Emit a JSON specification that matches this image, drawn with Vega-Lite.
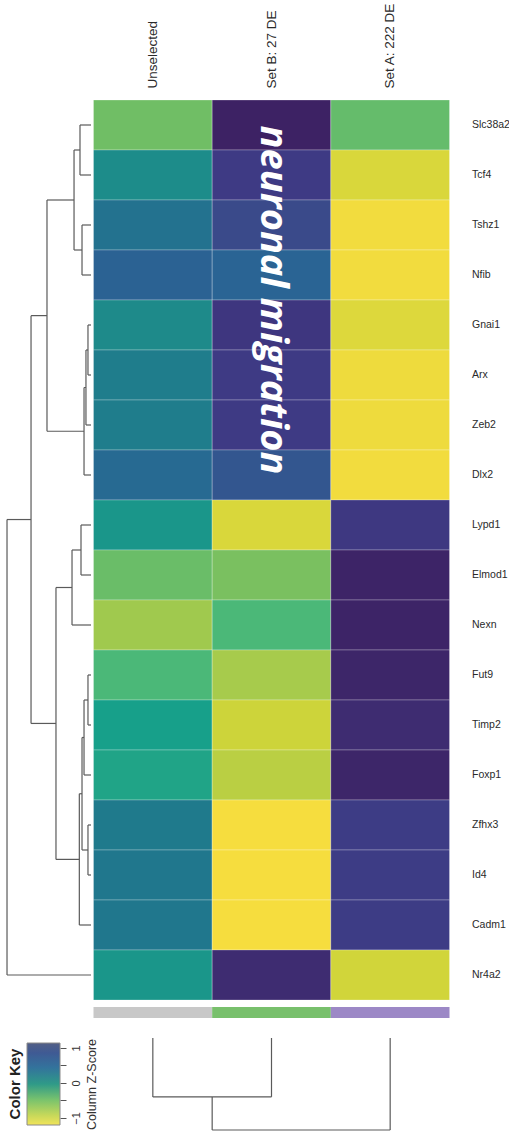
{
  "$schema": "https://vega.github.io/schema/vega-lite/v6.json",
  "background": "white",
  "padding": {"left": 6, "top": 2, "right": 0, "bottom": 0},
  "config": {"view": {"stroke": null}, "font": "Liberation Sans"},
  "datasets": {
    "cells": [
      {"gene": "Slc38a2", "group": "Unselected", "z": -0.75}, {"gene": "Slc38a2", "group": "Set B: 27 DE", "z": 1.41}, {"gene": "Slc38a2", "group": "Set A: 222 DE", "z": -0.69},
      {"gene": "Tcf4", "group": "Unselected", "z": 0.06}, {"gene": "Tcf4", "group": "Set B: 27 DE", "z": 1.05}, {"gene": "Tcf4", "group": "Set A: 222 DE", "z": -1.29},
      {"gene": "Tshz1", "group": "Unselected", "z": 0.36}, {"gene": "Tshz1", "group": "Set B: 27 DE", "z": 0.84}, {"gene": "Tshz1", "group": "Set A: 222 DE", "z": -1.47},
      {"gene": "Nfib", "group": "Unselected", "z": 0.54}, {"gene": "Nfib", "group": "Set B: 27 DE", "z": 0.51}, {"gene": "Nfib", "group": "Set A: 222 DE", "z": -1.47},
      {"gene": "Gnai1", "group": "Unselected", "z": 0.09}, {"gene": "Gnai1", "group": "Set B: 27 DE", "z": 1.11}, {"gene": "Gnai1", "group": "Set A: 222 DE", "z": -1.32},
      {"gene": "Arx", "group": "Unselected", "z": 0.24}, {"gene": "Arx", "group": "Set B: 27 DE", "z": 1.05}, {"gene": "Arx", "group": "Set A: 222 DE", "z": -1.44},
      {"gene": "Zeb2", "group": "Unselected", "z": 0.24}, {"gene": "Zeb2", "group": "Set B: 27 DE", "z": 1.05}, {"gene": "Zeb2", "group": "Set A: 222 DE", "z": -1.44},
      {"gene": "Dlx2", "group": "Unselected", "z": 0.45}, {"gene": "Dlx2", "group": "Set B: 27 DE", "z": 0.69}, {"gene": "Dlx2", "group": "Set A: 222 DE", "z": -1.47},
      {"gene": "Lypd1", "group": "Unselected", "z": -0.06}, {"gene": "Lypd1", "group": "Set B: 27 DE", "z": -1.29}, {"gene": "Lypd1", "group": "Set A: 222 DE", "z": 1.08},
      {"gene": "Elmod1", "group": "Unselected", "z": -0.72}, {"gene": "Elmod1", "group": "Set B: 27 DE", "z": -0.81}, {"gene": "Elmod1", "group": "Set A: 222 DE", "z": 1.38},
      {"gene": "Nexn", "group": "Unselected", "z": -0.99}, {"gene": "Nexn", "group": "Set B: 27 DE", "z": -0.54}, {"gene": "Nexn", "group": "Set A: 222 DE", "z": 1.38},
      {"gene": "Fut9", "group": "Unselected", "z": -0.54}, {"gene": "Fut9", "group": "Set B: 27 DE", "z": -1.02}, {"gene": "Fut9", "group": "Set A: 222 DE", "z": 1.35},
      {"gene": "Timp2", "group": "Unselected", "z": -0.18}, {"gene": "Timp2", "group": "Set B: 27 DE", "z": -1.2}, {"gene": "Timp2", "group": "Set A: 222 DE", "z": 1.26},
      {"gene": "Foxp1", "group": "Unselected", "z": -0.24}, {"gene": "Foxp1", "group": "Set B: 27 DE", "z": -1.11}, {"gene": "Foxp1", "group": "Set A: 222 DE", "z": 1.35},
      {"gene": "Zfhx3", "group": "Unselected", "z": 0.27}, {"gene": "Zfhx3", "group": "Set B: 27 DE", "z": -1.5}, {"gene": "Zfhx3", "group": "Set A: 222 DE", "z": 1.02},
      {"gene": "Id4", "group": "Unselected", "z": 0.3}, {"gene": "Id4", "group": "Set B: 27 DE", "z": -1.5}, {"gene": "Id4", "group": "Set A: 222 DE", "z": 1.02},
      {"gene": "Cadm1", "group": "Unselected", "z": 0.3}, {"gene": "Cadm1", "group": "Set B: 27 DE", "z": -1.5}, {"gene": "Cadm1", "group": "Set A: 222 DE", "z": 1.02},
      {"gene": "Nr4a2", "group": "Unselected", "z": -0.06}, {"gene": "Nr4a2", "group": "Set B: 27 DE", "z": 1.26}, {"gene": "Nr4a2", "group": "Set A: 222 DE", "z": -1.23}
    ],
    "rowTree": [
      {"h1": 1.31, "h2": 1.31, "r1": 0.5, "r2": 1.5}, {"h1": 0, "h2": 1.31, "r1": 0.5, "r2": 0.5}, {"h1": 0, "h2": 1.31, "r1": 1.5, "r2": 1.5},
      {"h1": 1.07, "h2": 1.07, "r1": 2.5, "r2": 3.5}, {"h1": 0, "h2": 1.07, "r1": 2.5, "r2": 2.5}, {"h1": 0, "h2": 1.07, "r1": 3.5, "r2": 3.5},
      {"h1": 2.02, "h2": 2.02, "r1": 1.0, "r2": 3.0}, {"h1": 1.31, "h2": 2.02, "r1": 1.0, "r2": 1.0}, {"h1": 1.07, "h2": 2.02, "r1": 3.0, "r2": 3.0},
      {"h1": 0.36, "h2": 0.36, "r1": 4.5, "r2": 5.5}, {"h1": 0, "h2": 0.36, "r1": 4.5, "r2": 4.5}, {"h1": 0, "h2": 0.36, "r1": 5.5, "r2": 5.5},
      {"h1": 0.6, "h2": 0.6, "r1": 5.0, "r2": 6.5}, {"h1": 0.36, "h2": 0.6, "r1": 5.0, "r2": 5.0}, {"h1": 0, "h2": 0.6, "r1": 6.5, "r2": 6.5},
      {"h1": 0.83, "h2": 0.83, "r1": 5.75, "r2": 7.5}, {"h1": 0.6, "h2": 0.83, "r1": 5.75, "r2": 5.75}, {"h1": 0, "h2": 0.83, "r1": 7.5, "r2": 7.5},
      {"h1": 5.24, "h2": 5.24, "r1": 2.0, "r2": 6.625}, {"h1": 2.02, "h2": 5.24, "r1": 2.0, "r2": 2.0}, {"h1": 0.83, "h2": 5.24, "r1": 6.625, "r2": 6.625},
      {"h1": 1.19, "h2": 1.19, "r1": 8.5, "r2": 9.5}, {"h1": 0, "h2": 1.19, "r1": 8.5, "r2": 8.5}, {"h1": 0, "h2": 1.19, "r1": 9.5, "r2": 9.5},
      {"h1": 2.26, "h2": 2.26, "r1": 9.0, "r2": 10.5}, {"h1": 1.19, "h2": 2.26, "r1": 9.0, "r2": 9.0}, {"h1": 0, "h2": 2.26, "r1": 10.5, "r2": 10.5},
      {"h1": 0.36, "h2": 0.36, "r1": 11.5, "r2": 12.5}, {"h1": 0, "h2": 0.36, "r1": 11.5, "r2": 11.5}, {"h1": 0, "h2": 0.36, "r1": 12.5, "r2": 12.5},
      {"h1": 0.83, "h2": 0.83, "r1": 12.0, "r2": 13.5}, {"h1": 0.36, "h2": 0.83, "r1": 12.0, "r2": 12.0}, {"h1": 0, "h2": 0.83, "r1": 13.5, "r2": 13.5},
      {"h1": 0.36, "h2": 0.36, "r1": 14.5, "r2": 15.5}, {"h1": 0, "h2": 0.36, "r1": 14.5, "r2": 14.5}, {"h1": 0, "h2": 0.36, "r1": 15.5, "r2": 15.5},
      {"h1": 1.07, "h2": 1.07, "r1": 12.75, "r2": 15.0}, {"h1": 0.83, "h2": 1.07, "r1": 12.75, "r2": 12.75}, {"h1": 0.36, "h2": 1.07, "r1": 15.0, "r2": 15.0},
      {"h1": 1.39, "h2": 1.39, "r1": 13.875, "r2": 16.5}, {"h1": 1.07, "h2": 1.39, "r1": 13.875, "r2": 13.875}, {"h1": 0, "h2": 1.39, "r1": 16.5, "r2": 16.5},
      {"h1": 4.17, "h2": 4.17, "r1": 9.75, "r2": 15.1875}, {"h1": 2.26, "h2": 4.17, "r1": 9.75, "r2": 9.75}, {"h1": 1.39, "h2": 4.17, "r1": 15.1875, "r2": 15.1875},
      {"h1": 7.14, "h2": 7.14, "r1": 4.3125, "r2": 12.46875}, {"h1": 5.24, "h2": 7.14, "r1": 4.3125, "r2": 4.3125}, {"h1": 4.17, "h2": 7.14, "r1": 12.46875, "r2": 12.46875},
      {"h1": 10, "h2": 10, "r1": 8.390625, "r2": 17.5}, {"h1": 7.14, "h2": 10, "r1": 8.390625, "r2": 8.390625}, {"h1": 0, "h2": 10, "r1": 17.5, "r2": 17.5}
    ],
    "colTree": [
      {"c1": 0.5, "c2": 0.5, "h1": 0, "h2": 6.4},
      {"c1": 1.5, "c2": 1.5, "h1": 0, "h2": 6.4},
      {"c1": 0.5, "c2": 1.5, "h1": 6.4, "h2": 6.4},
      {"c1": 1.0, "c2": 1.0, "h1": 6.4, "h2": 10},
      {"c1": 2.5, "c2": 2.5, "h1": 0, "h2": 10},
      {"c1": 1.0, "c2": 2.5, "h1": 10, "h2": 10}
    ],
    "groups": [
      {"group": "Unselected"}, {"group": "Set B: 27 DE"}, {"group": "Set A: 222 DE"}
    ]
  },
  "bounds": "flush",
  "spacing": 66.5,
  "resolve": {"scale": {"x": "independent", "y": "independent", "color": "independent"}},
  "hconcat": [
    {
      "bounds": "full",
      "spacing": 38,
      "resolve": {"scale": {"x": "independent", "y": "independent", "color": "independent"}},
      "vconcat": [
        {
          "width": 64,
          "height": 900,
          "data": {"name": "rowTree"},
          "mark": {"type": "rule", "color": "#5a5a5a", "strokeWidth": 1.2},
          "encoding": {
            "x": {"field": "h1", "type": "quantitative", "scale": {"domain": [0, 7.62], "reverse": true, "nice": false, "zero": false}, "axis": null},
            "x2": {"field": "h2"},
            "y": {"field": "r1", "type": "quantitative", "scale": {"domain": [0, 18], "reverse": true, "nice": false, "zero": false}, "axis": null},
            "y2": {"field": "r2"}
          }
        },
        {
          "width": 33,
          "height": 82,
          "title": {"text": "Color Key", "orient": "left", "anchor": "middle", "fontSize": 15, "fontWeight": "bold", "color": "#222", "offset": 4},
          "data": {"values": [{}]},
          "mark": {"type": "rect", "stroke": "#8a8a8a", "strokeWidth": 1, "color": {"gradient": "linear", "x1": 0, "y1": 1, "x2": 0, "y2": 0, "stops": [
            {"offset": 0, "color": "#f2e45a"},
            {"offset": 0.12, "color": "#c6d85a"},
            {"offset": 0.3, "color": "#7cc46c"},
            {"offset": 0.5, "color": "#2f9a88"},
            {"offset": 0.7, "color": "#33739c"},
            {"offset": 0.88, "color": "#3f5a94"},
            {"offset": 1, "color": "#535f86"}
          ]}},
          "encoding": {
            "x": {"datum": 0, "type": "quantitative", "scale": {"domain": [0, 1], "nice": false, "zero": false}, "axis": null},
            "x2": {"datum": 1},
            "y": {"datum": -1.2, "type": "quantitative", "scale": {"domain": [-1.2, 1.14], "nice": false, "zero": false},
              "axis": {"orient": "right", "values": [-1, -0.5, 0, 0.5, 1], "labelExpr": "datum.value == 0 ? '0' : datum.value == 1 ? '1' : datum.value == -1 ? '\u22121' : ''", "labelAngle": 270, "labelAlign": "center", "labelBaseline": "middle", "labelPadding": 10, "labelFontSize": 11, "labelColor": "#333", "tickSize": 6, "tickColor": "#555", "domain": false, "grid": false, "title": "Column Z-Score", "titleAngle": 270, "titleAlign": "center", "titleBaseline": "middle", "titleX": 31, "titleY": 41, "titleFontSize": 12.5, "titleFontWeight": "normal", "titleColor": "#333"}},
            "y2": {"datum": 1.14}
          }
        }
      ]
    },
    {
      "bounds": "flush",
      "spacing": 7,
      "resolve": {"scale": {"x": "independent", "y": "independent", "color": "independent"}},
      "vconcat": [
        {
          "width": 356,
          "height": 900,
          "layer": [
            {
              "data": {"name": "cells"},
              "mark": {"type": "rect", "stroke": "#ffffff", "strokeWidth": 1, "strokeOpacity": 0.25},
              "encoding": {
                "x": {"field": "group", "type": "nominal", "sort": ["Unselected", "Set B: 27 DE", "Set A: 222 DE"], "scale": {"paddingInner": 0, "paddingOuter": 0},
                  "axis": {"orient": "top", "title": null, "labelAngle": 270, "labelAlign": "left", "labelBaseline": "middle", "ticks": false, "domain": false, "labelPadding": 12, "labelFontSize": 13.5, "labelColor": "#2a2a2a", "labelLimit": 0}},
                "y": {"field": "gene", "type": "nominal", "sort": ["Slc38a2", "Tcf4", "Tshz1", "Nfib", "Gnai1", "Arx", "Zeb2", "Dlx2", "Lypd1", "Elmod1", "Nexn", "Fut9", "Timp2", "Foxp1", "Zfhx3", "Id4", "Cadm1", "Nr4a2"], "scale": {"paddingInner": 0, "paddingOuter": 0},
                  "axis": {"orient": "right", "title": null, "ticks": false, "domain": false, "labelPadding": 22, "labelFontSize": 10.5, "labelColor": "#2a2a2a"}},
                "color": {"field": "z", "type": "quantitative", "scale": {"type": "linear", "domain": [-1.5, -1.2, -0.81, -0.54, -0.18, 0.09, 0.27, 0.51, 0.84, 1.05, 1.5], "range": ["#f6dd3e", "#cdd43a", "#7ac060", "#4bb878", "#17a08a", "#1e8a8a", "#1f7a8c", "#2a6494", "#3a4a8a", "#3e3a84", "#3d1c5c"], "interpolate": "rgb"}, "legend": null}
              }
            },
            {
              "data": {"values": [{"label": "neuronal migration", "group": "Set B: 27 DE", "gene": "Nfib"}]},
              "mark": {"type": "text", "angle": 90, "font": "Open Sans", "fontSize": 38, "fontWeight": "bold", "fontStyle": "italic", "color": "#ffffff", "align": "center", "baseline": "middle"},
              "encoding": {
                "x": {"field": "group", "type": "nominal", "sort": ["Unselected", "Set B: 27 DE", "Set A: 222 DE"]},
                "y": {"field": "gene", "type": "nominal", "bandPosition": 1, "sort": ["Slc38a2", "Tcf4", "Tshz1", "Nfib", "Gnai1", "Arx", "Zeb2", "Dlx2", "Lypd1", "Elmod1", "Nexn", "Fut9", "Timp2", "Foxp1", "Zfhx3", "Id4", "Cadm1", "Nr4a2"]},
                "text": {"field": "label"}
              }
            }
          ]
        },
        {
          "bounds": "flush",
          "spacing": 20,
          "resolve": {"scale": {"x": "independent", "y": "independent", "color": "independent"}},
          "vconcat": [
            {
              "width": 356,
              "height": 11,
              "data": {"name": "groups"},
              "mark": {"type": "rect"},
              "encoding": {
                "x": {"field": "group", "type": "nominal", "sort": ["Unselected", "Set B: 27 DE", "Set A: 222 DE"], "scale": {"paddingInner": 0, "paddingOuter": 0}, "axis": null},
                "color": {"field": "group", "type": "nominal", "scale": {"domain": ["Unselected", "Set B: 27 DE", "Set A: 222 DE"], "range": ["#c8c8c8", "#78c06c", "#9c88c6"]}, "legend": null}
              }
            },
            {
              "width": 356,
              "height": 92,
              "data": {"name": "colTree"},
              "mark": {"type": "rule", "color": "#5a5a5a", "strokeWidth": 1.2},
              "encoding": {
                "x": {"field": "c1", "type": "quantitative", "scale": {"domain": [0, 3], "nice": false, "zero": false}, "axis": null},
                "x2": {"field": "c2"},
                "y": {"field": "h1", "type": "quantitative", "scale": {"domain": [0, 10], "reverse": true, "nice": false, "zero": false}, "axis": null},
                "y2": {"field": "h2"}
              }
            }
          ]
        }
      ]
    }
  ]
}
